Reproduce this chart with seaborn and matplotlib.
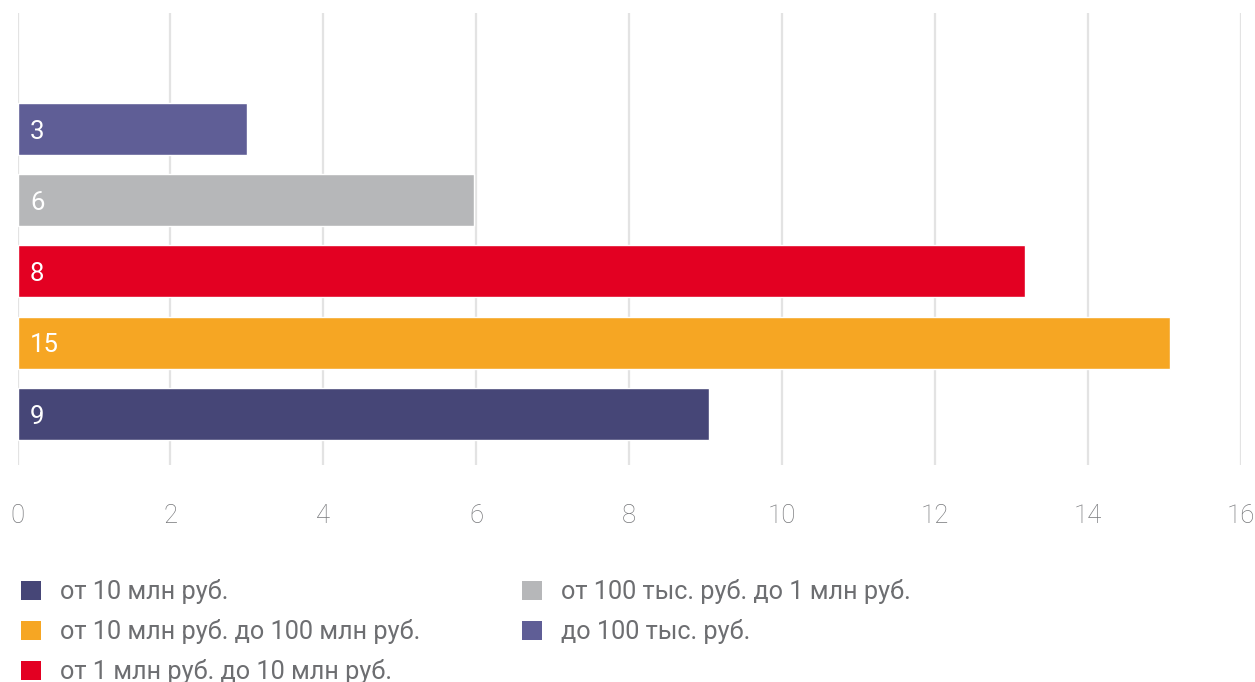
import pandas as pd
import matplotlib
matplotlib.use("Agg")
import matplotlib.pyplot as plt
from matplotlib.patches import Patch
import seaborn as sns

# data (top to bottom)
categories = ["до 100 тыс. руб.", "от 100 тыс. руб. до 1 млн руб.",
              "от 1 млн руб. до 10 млн руб.", "от 10 млн руб. до 100 млн руб.",
              "от 10 млн руб."]
values = [3.0, 5.97, 13.18, 15.07, 9.04]
bar_labels = ["3", "6", "8", "15", "9"]
colors = ["#5f5e96", "#b6b7b9", "#e30022", "#f6a623", "#464677"]
legend_order = [4, 3, 2, 1, 0]
xticks = [0, 2, 4, 6, 8, 10, 12, 14, 16]

sns.set_style("white")
plt.rcParams["font.family"] = ["Roboto", "DejaVu Sans"]

df = pd.DataFrame({"category": categories, "value": values})

fig = plt.figure(figsize=(12.55, 6.82), dpi=100)
ax = fig.add_axes([17.5 / 1255, 1 - 465 / 682, (1241 - 17.5) / 1255, 452 / 682])

sns.barplot(data=df, x="value", y="category", hue="category", palette=colors,
            orient="h", width=0.73, dodge=False, legend=False, saturation=1,
            ax=ax, zorder=3)

# value labels at the start of each bar
for i, lab in enumerate(bar_labels):
    ax.annotate(lab, xy=(0, i), xytext=(9, -2), textcoords="offset points",
                color="white", fontsize=18.5, va="center", ha="left", zorder=4)

ax.set_xlim(0, 16)
ax.set_ylim(4.72, -1.63)
ax.set_xticks(xticks)
ax.set_xticklabels([str(t) for t in xticks], fontsize=18.5, color="#77787b", fontweight="light")
ax.set_yticks([])
ax.set_xlabel("")
ax.set_ylabel("")
ax.tick_params(axis="x", length=0, pad=28)
ax.grid(axis="x", color="#e3e3e3", linewidth=1.6, zorder=0)
ax.set_axisbelow(True)
for s in ax.spines.values():
    s.set_visible(False)

handles = [Patch(facecolor=colors[i], edgecolor="none") for i in legend_order]
labels = [categories[i] for i in legend_order]

leg_kw = dict(loc="upper left", frameon=False, borderpad=0, borderaxespad=0,
              handlelength=0.8, handleheight=0.8, handletextpad=0.75,
              labelspacing=0.6, labelcolor="#6d6e71", prop={"size": 18.2})
fig.legend(handles[:3], labels[:3], bbox_to_anchor=(21 / 1255, 1 - 579 / 682), **leg_kw)
fig.legend(handles[3:], labels[3:], bbox_to_anchor=(522 / 1255, 1 - 579 / 682), **leg_kw)

fig.savefig("out.png", dpi=100)
